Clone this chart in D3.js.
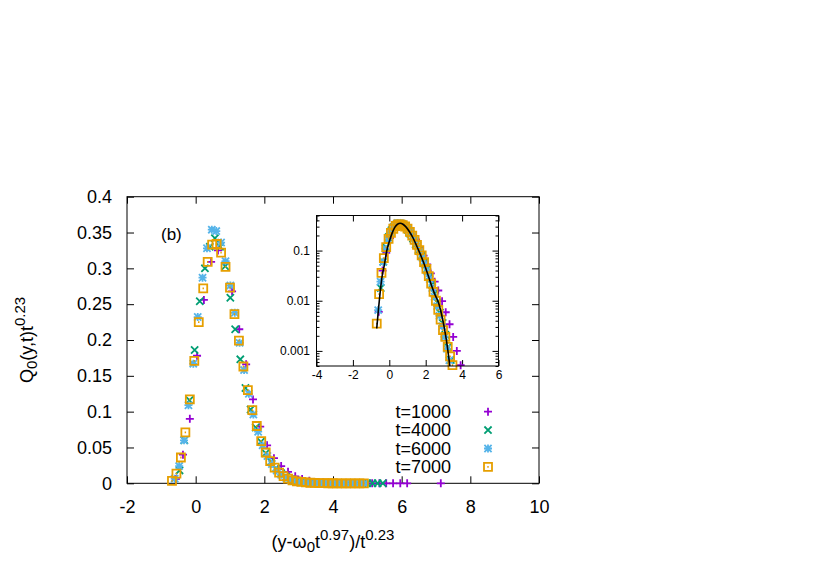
<!DOCTYPE html>
<html>
<head>
<meta charset="utf-8">
<style>
  body, html { margin: 0; padding: 0; background: #fff; overflow: hidden; }
  svg { display: block; font-family: "Liberation Sans", Arial, sans-serif; }
</style>
</head>
<body>
<svg width="830" height="581"></svg>
<script src="https://cdn.jsdelivr.net/npm/d3@7"></script>
<script>
// scaled distributions, one pair of arrays per time
var t1000X = [-0.58, -0.37, -0.17, 0.04, 0.24, 0.45, 0.65, 0.86, 1.06, 1.27, 1.47, 1.67, 1.88, 2.08, 2.28, 2.49, 2.69, 2.90, 3.10, 3.31, 3.51, 3.71, 3.92, 4.12, 4.33, 4.53, 4.73, 4.94, 5.14, 5.35, 5.55, 5.75, 5.96, 6.16, 7.14];
var t1000Y = [0.006, 0.040, 0.090, 0.178, 0.256, 0.309, 0.325, 0.308, 0.268, 0.215, 0.166, 0.117, 0.079, 0.053, 0.035, 0.024, 0.016, 0.0098, 0.0059, 0.0034, 0.0019, 0.0010, 0.00052, 0.00024, 0.00011, 0.00005, 0.000023, 0.00001, 0.000005, 0.000002, 0.000001, 0.0000005, 0.0000002, 0.0000001, 0.00000002];

var t4000X = [-0.47, -0.33, -0.18, -0.03, 0.12, 0.27, 0.41, 0.56, 0.71, 0.86, 1.01, 1.15, 1.30, 1.45, 1.60, 1.75, 1.90, 2.04, 2.19, 2.34, 2.49, 2.64, 2.78, 2.93, 3.08, 3.23, 3.38, 3.52, 3.67, 3.82, 3.97, 4.12, 4.26, 4.41, 4.56, 4.71, 4.86, 5.00, 5.15, 5.30, 5.45];
var t4000Y = [0.018, 0.060, 0.116, 0.186, 0.254, 0.300, 0.330, 0.342, 0.330, 0.303, 0.259, 0.215, 0.173, 0.133, 0.103, 0.078, 0.058, 0.042, 0.030, 0.021, 0.014, 0.0092, 0.0058, 0.0036, 0.0021, 0.0012, 0.00066, 0.00036, 0.0002, 0.0001, 0.00005, 0.000025, 0.000012, 0.000006, 0.000003, 0.0000015, 0.0000007, 0.0000003, 0.00000015, 0.00000007, 0.00000003];

var t6000X = [-0.61, -0.48, -0.34, -0.21, -0.07, 0.06, 0.20, 0.33, 0.47, 0.60, 0.74, 0.87, 1.01, 1.14, 1.28, 1.41, 1.55, 1.68, 1.82, 1.95, 2.09, 2.22, 2.36, 2.49, 2.63, 2.76, 2.90, 3.03, 3.17, 3.30, 3.44, 3.57, 3.71, 3.84, 3.98, 4.11, 4.25, 4.38, 4.52, 4.65, 4.79, 4.92];
var t6000Y = [0.0065, 0.024, 0.060, 0.109, 0.167, 0.232, 0.287, 0.328, 0.354, 0.352, 0.336, 0.310, 0.276, 0.238, 0.196, 0.158, 0.125, 0.096, 0.072, 0.053, 0.038, 0.027, 0.018, 0.012, 0.0078, 0.0050, 0.0031, 0.0019, 0.0011, 0.00065, 0.00037, 0.0002, 0.00011, 0.00006, 0.00003, 0.000016, 0.000008, 0.000004, 0.000002, 0.000001, 0.0000005, 0.0000002];

var t7000X = [-0.69, -0.56, -0.43, -0.30, -0.17, -0.04, 0.09, 0.22, 0.35, 0.48, 0.61, 0.74, 0.87, 1.00, 1.13, 1.26, 1.39, 1.52, 1.65, 1.78, 1.91, 2.04, 2.17, 2.30, 2.43, 2.56, 2.69, 2.82, 2.95, 3.08, 3.21, 3.34, 3.47, 3.60, 3.73, 3.86, 3.99, 4.12, 4.25, 4.38, 4.51, 4.64, 4.77, 4.90];
var t7000Y = [0.0035, 0.0135, 0.036, 0.071, 0.117, 0.171, 0.225, 0.272, 0.309, 0.333, 0.334, 0.322, 0.302, 0.273, 0.236, 0.199, 0.163, 0.130, 0.102, 0.080, 0.059, 0.043, 0.031, 0.022, 0.015, 0.0100, 0.0066, 0.0042, 0.0026, 0.0019, 0.0012, 0.00078, 0.00052, 0.0003, 0.00017, 0.0001, 0.000055, 0.00003, 0.000016, 0.000008, 0.000004, 0.000002, 0.000001, 0.0000005];

// fitted curve in the inset
var fitX = [-0.69, -0.6, -0.5, -0.4, -0.27, -0.15, 0, 0.15, 0.3, 0.45, 0.6, 0.75, 0.9, 1.1, 1.3, 1.5, 1.7, 1.9, 2.1, 2.3, 2.5, 2.7, 2.9, 3.1, 3.3, 3.45];
var fitY = [0.0028, 0.0065, 0.015, 0.03, 0.052, 0.095, 0.151, 0.22, 0.29, 0.335, 0.35, 0.335, 0.3, 0.24, 0.18, 0.125, 0.085, 0.056, 0.035, 0.021, 0.0135, 0.0092, 0.0048, 0.002, 0.0006, 0.0002];

var seriesNames = ["t=1000", "t=4000", "t=6000", "t=7000"];
var seriesColors = ["#9400d3", "#009e73", "#56b4e9", "#e69f00"];
var seriesShapes = ["plus", "cross", "star", "square"];

var xTicks = [-2, 0, 2, 4, 6, 8, 10];
var yTicks = [0, 0.05, 0.1, 0.15, 0.2, 0.25, 0.3, 0.35, 0.4];
var insetXTicks = [-4, -2, 0, 2, 4, 6];
var insetYTicks = [0.001, 0.01, 0.1];

var series = [
    {x: t1000X, y: t1000Y},
    {x: t4000X, y: t4000Y},
    {x: t6000X, y: t6000Y},
    {x: t7000X, y: t7000Y}
];

var svg = d3.select("svg");

var x = d3.scaleLinear().domain([-2, 10]).range([127, 539]);
var y = d3.scaleLinear().domain([0, 0.4]).range([483.3, 196.7]);

function markerPath(shape, cx, cy) {
    var r = 4;
    var p = d3.path();
    if (shape == "plus" || shape == "star") {
        p.moveTo(cx - r, cy); p.lineTo(cx + r, cy);
        p.moveTo(cx, cy - r); p.lineTo(cx, cy + r);
    }
    if (shape == "cross" || shape == "star") {
        var q = r * 0.9;
        p.moveTo(cx - q, cy - q); p.lineTo(cx + q, cy + q);
        p.moveTo(cx - q, cy + q); p.lineTo(cx + q, cy - q);
    }
    if (shape == "square") {
        p.rect(cx - r, cy - r, 2 * r, 2 * r);
        p.moveTo(cx - 0.7, cy); p.lineTo(cx + 0.7, cy);
    }
    return p.toString();
}

function drawPoints(g, sx, sy, keep) {
    series.forEach(function (s, i) {
        var pts = s.x.map(function (v, j) { return [v, s.y[j]]; }).filter(keep);
        g.append("g")
            .selectAll("path")
            .data(pts)
            .enter().append("path")
            .attr("d", function (d) { return markerPath(seriesShapes[i], sx(d[0]), sy(d[1])); })
            .attr("fill", "none")
            .attr("stroke", seriesColors[i])
            .attr("stroke-width", 1.8);
    });
}

// main frame and axes
var main = svg.append("g");
main.append("g")
    .attr("transform", "translate(0,483.3)")
    .call(d3.axisBottom(x).tickValues(xTicks).tickSize(-7).tickPadding(17).tickFormat(String));
main.append("g")
    .attr("transform", "translate(0,196.7)")
    .call(d3.axisTop(x).tickValues(xTicks).tickSize(-7).tickFormat(""));
main.append("g")
    .attr("transform", "translate(127,0)")
    .call(d3.axisLeft(y).tickValues(yTicks).tickSize(-7).tickPadding(15).tickFormat(String));
main.append("g")
    .attr("transform", "translate(539,0)")
    .call(d3.axisRight(y).tickValues(yTicks).tickSize(-7).tickFormat(""));
main.selectAll(".domain").remove();
main.selectAll(".tick line").attr("stroke", "#000");
main.selectAll(".tick text").attr("font-size", 18).attr("font-family", "Liberation Sans, Arial, sans-serif").attr("fill", "#000");
main.append("rect")
    .attr("x", 127).attr("y", 196.7)
    .attr("width", 539 - 127).attr("height", 483.3 - 196.7)
    .attr("fill", "none").attr("stroke", "#000").attr("stroke-width", 1);

drawPoints(main, x, y, function () { return true; });

main.append("text")
    .attr("x", 161).attr("y", 239.5)
    .attr("font-size", 17)
    .text("(b)");

// legend
var legend = main.append("g");
seriesNames.forEach(function (name, i) {
    var ly = 411.7 + i * 18.4;
    legend.append("text")
        .attr("x", 451).attr("y", ly).attr("dy", "0.35em")
        .attr("text-anchor", "end")
        .attr("font-size", 18)
        .text(name);
    legend.append("path")
        .attr("d", markerPath(seriesShapes[i], 488, ly))
        .attr("fill", "none")
        .attr("stroke", seriesColors[i])
        .attr("stroke-width", 1.8);
});

// axis titles
var ylab = svg.append("text")
    .attr("transform", "translate(33,340) rotate(-90)")
    .attr("text-anchor", "middle")
    .attr("font-size", 18);
ylab.append("tspan").text("Q");
ylab.append("tspan").attr("font-size", 15).attr("dy", 4).text("0");
ylab.append("tspan").attr("dy", -4).text("(y,t)t");
ylab.append("tspan").attr("font-size", 15).attr("dy", -8).text("0.23");

var xlab = svg.append("text")
    .attr("x", 333).attr("y", 548)
    .attr("text-anchor", "middle")
    .attr("font-size", 18);
xlab.append("tspan").text("(y-ω");
xlab.append("tspan").attr("font-size", 15).attr("dy", 4).text("0");
xlab.append("tspan").attr("dy", -4).text("t");
xlab.append("tspan").attr("font-size", 15).attr("dy", -8).text("0.97");
xlab.append("tspan").attr("dy", 8).text(")/t");
xlab.append("tspan").attr("font-size", 15).attr("dy", -8).text("0.23");

// inset, log scale
var xi = d3.scaleLinear().domain([-4, 6]).range([316.5, 498.5]);
var yi = d3.scaleLog().domain([0.0005, 0.5]).range([366, 215.5]);
var inset = svg.append("g");
inset.append("rect")
    .attr("x", 316.5).attr("y", 215.5)
    .attr("width", 182).attr("height", 150.5)
    .attr("fill", "#fff");
svg.append("clipPath").attr("id", "insetClip")
    .append("rect")
    .attr("x", 316.5).attr("y", 215.5)
    .attr("width", 182).attr("height", 150.5);

var minorTicks = [];
[0.0001, 0.001, 0.01, 0.1].forEach(function (dec) {
    for (var k = 2; k <= 9; k++) {
        var v = +(dec * k).toPrecision(3);
        if (v >= 0.0005 && v <= 0.5) minorTicks.push(v);
    }
});

inset.append("g")
    .attr("transform", "translate(0,366)")
    .call(d3.axisBottom(xi).tickValues(insetXTicks).tickSize(-6).tickPadding(4.5).tickFormat(String));
inset.append("g")
    .attr("transform", "translate(0,215.5)")
    .call(d3.axisTop(xi).tickValues(insetXTicks).tickSize(-6).tickFormat(""));
inset.append("g")
    .attr("transform", "translate(316.5,0)")
    .call(d3.axisLeft(yi).tickValues(insetYTicks).tickSize(-6).tickPadding(6.5).tickFormat(String));
inset.append("g")
    .attr("transform", "translate(498.5,0)")
    .call(d3.axisRight(yi).tickValues(insetYTicks).tickSize(-6).tickFormat(""));
inset.append("g")
    .attr("transform", "translate(316.5,0)")
    .call(d3.axisLeft(yi).tickValues(minorTicks).tickSize(-3).tickFormat(""));
inset.append("g")
    .attr("transform", "translate(498.5,0)")
    .call(d3.axisRight(yi).tickValues(minorTicks).tickSize(-3).tickFormat(""));
inset.selectAll(".domain").remove();
inset.selectAll(".tick line").attr("stroke", "#000");
inset.selectAll(".tick text").attr("font-size", 12).attr("font-family", "Liberation Sans, Arial, sans-serif").attr("fill", "#000");

drawPoints(inset, xi, yi, function (d) { return d[1] >= 0.0005 && d[1] <= 0.5; });

var fitLine = d3.line()
    .x(function (d) { return xi(d[0]); })
    .y(function (d) { return yi(d[1]); })
    .curve(d3.curveMonotoneX);
inset.append("path")
    .datum(fitX.map(function (v, j) { return [v, fitY[j]]; }))
    .attr("clip-path", "url(#insetClip)")
    .attr("d", fitLine)
    .attr("fill", "none")
    .attr("stroke", "#000")
    .attr("stroke-width", 1.6);

inset.append("rect")
    .attr("x", 316.5).attr("y", 215.5)
    .attr("width", 182).attr("height", 150.5)
    .attr("fill", "none").attr("stroke", "#000").attr("stroke-width", 1);
</script>
</body>
</html>
